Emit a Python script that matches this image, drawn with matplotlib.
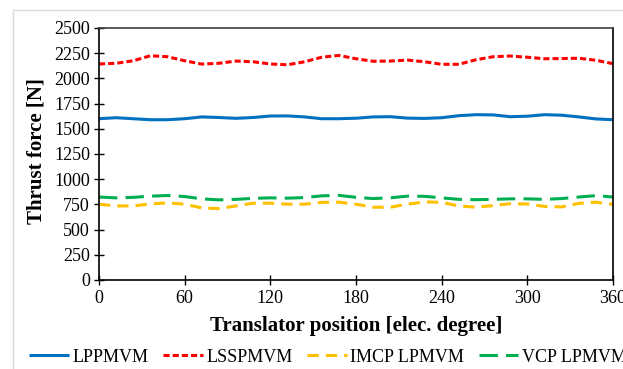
import matplotlib
matplotlib.use("Agg")
import matplotlib.pyplot as plt
from matplotlib.patches import Rectangle

plt.rcParams['font.family'] = ['Liberation Serif', 'DejaVu Serif']

position = [0, 12, 24, 36, 48, 60, 72, 84, 96, 108, 120, 132, 144, 156, 168, 180,
            192, 204, 216, 228, 240, 252, 264, 276, 288, 300, 312, 324, 336, 348, 360]

lppmvm = [1600, 1610, 1600, 1590, 1590, 1600, 1618, 1612, 1604, 1612, 1627, 1628, 1618, 1600, 1600, 1605,
          1618, 1620, 1606, 1603, 1610, 1630, 1640, 1638, 1620, 1625, 1640, 1635, 1618, 1598, 1590]
lsspmvm = [2143, 2150, 2175, 2225, 2215, 2175, 2142, 2150, 2172, 2165, 2143, 2135, 2165, 2210, 2228, 2195,
           2170, 2172, 2182, 2165, 2140, 2140, 2185, 2215, 2222, 2210, 2195, 2197, 2200, 2180, 2146]
imcp = [752, 735, 735, 755, 765, 752, 715, 708, 735, 762, 762, 752, 752, 770, 772, 752,
        722, 722, 752, 775, 770, 735, 722, 738, 757, 754, 730, 725, 760, 772, 750]
vcp = [823, 815, 820, 832, 838, 828, 805, 795, 800, 810, 815, 812, 818, 835, 840, 820,
       808, 815, 832, 830, 815, 800, 797, 800, 805, 805, 800, 808, 823, 837, 823]

series_names = ['LPPMVM', 'LSSPMVM', 'IMCP LPMVM', 'VCP LPMVM']
x_ticks = [0, 60, 120, 180, 240, 300, 360]
y_ticks = [0, 250, 500, 750, 1000, 1250, 1500, 1750, 2000, 2250, 2500]

fig = plt.figure(figsize=(6.23, 3.69), dpi=100)
fig.patches.append(Rectangle((13/623, -0.1), 1.2, (1 - 10/369) + 0.1,
                             transform=fig.transFigure, fill=False,
                             edgecolor='#d9d9d9', lw=1, zorder=0))
ax = fig.add_axes([99/623, 1 - 280/369, (613 - 99)/623, (280 - 28)/369])

lw = 2.2
ax.plot(position, lppmvm, color='#0070C0', lw=lw, label=series_names[0], solid_capstyle='butt')
ax.plot(position, lsspmvm, color='#FF0000', lw=lw, label=series_names[1], dashes=(2, 1))
ax.plot(position, imcp, color='#FFC000', lw=lw, label=series_names[2], dashes=(3.7, 2.3))
ax.plot(position, vcp, color='#00B050', lw=lw, label=series_names[3], dashes=(6, 2.7))

ax.set_xlim(0, 360)
ax.set_ylim(0, 2500)
ax.set_xticks(x_ticks)
ax.set_yticks(y_ticks)
ax.tick_params(direction='inout', length=7, width=1, labelsize=13, colors='black')
ax.tick_params(axis='x', pad=4)
ax.tick_params(axis='y', pad=3)
for s in ax.spines.values():
    s.set_color('black')
    s.set_linewidth(1.2)
ax.spines['top'].set_color('#404040')

ax.set_xlabel('Translator position [elec. degree]', fontsize=15, fontweight='bold', labelpad=6)
ax.set_ylabel('Thrust force [N]', fontsize=15, fontweight='bold', labelpad=5)
ax.yaxis.set_label_coords(-0.103, 0.51)

leg = fig.legend(loc='center left', bbox_to_anchor=(22/623, 1 - 357/369), ncol=4,
                 frameon=False, fontsize=13, handlelength=2.2, handletextpad=0.2,
                 columnspacing=0.8, borderaxespad=0)

fig.savefig('out.png', dpi=100)
